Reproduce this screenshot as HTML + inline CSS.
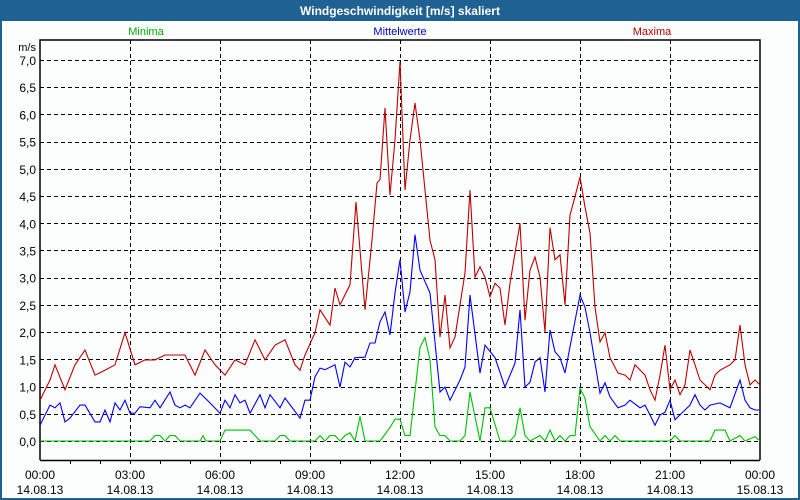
<!DOCTYPE html>
<html><head><meta charset="utf-8"><style>
body{margin:0;background:#fff;}
svg{display:block;font-family:"Liberation Sans","DejaVu Sans",sans-serif;}
</style></head><body>
<svg id="chart" width="800" height="500" viewBox="0 0 800 500">
<rect x="0" y="0" width="800" height="500" fill="#1f6193"/>
<rect x="2" y="21" width="796" height="477" fill="#fcfefd"/>
<text x="400" y="15" text-anchor="middle" fill="#fff" font-size="12" font-weight="bold">Windgeschwindigkeit [m/s] skaliert</text>
<text x="146" y="35" text-anchor="middle" fill="#00a800" font-size="11">Minima</text>
<text x="400" y="35" text-anchor="middle" fill="#0000c8" font-size="11">Mittelwerte</text>
<text x="652" y="35" text-anchor="middle" fill="#b40000" font-size="11">Maxima</text>
<text x="36" y="51" text-anchor="end" fill="#000" font-size="11">m/s</text>
<g id="grid"></g><g id="axes"></g><g id="series"></g>
</svg>
<script>
const yTicks=[0,0.5,1,1.5,2,2.5,3,3.5,4,4.5,5,5.5,6,6.5,7];
const xTickHours=[0,3,6,9,12,15,18,21,24];
const xTimeLabels=["00:00","03:00","06:00","09:00","12:00","15:00","18:00","21:00","00:00"];
const xDateLabels=["14.08.13","14.08.13","14.08.13","14.08.13","14.08.13","14.08.13","14.08.13","14.08.13","15.08.13"];
const maxT=[0,20,30,50,70,90,110,130,150,170,190,210,230,250,270,290,310,330,350,370,390,410,430,450,470,490,510,520,530,550,560,580,590,600,620,632,650,664,674,680,690,700,710,720,730,740,750,760,770,780,790,800,810,820,830,850,860,870,880,890,900,910,920,930,940,960,970,980,990,1000,1010,1020,1030,1040,1050,1060,1070,1080,1090,1100,1110,1120,1130,1140,1156,1170,1180,1190,1210,1220,1230,1240,1250,1260,1270,1280,1290,1300,1310,1320,1330,1340,1350,1360,1380,1390,1400,1410,1420,1430,1440];
const maxV=[0.75,1.12,1.4,0.94,1.4,1.67,1.21,1.3,1.4,1.99,1.4,1.49,1.49,1.58,1.58,1.58,1.21,1.67,1.4,1.21,1.49,1.4,1.86,1.49,1.76,1.86,1.4,1.3,1.58,1.99,2.41,2.13,2.81,2.5,2.87,4.39,2.41,3.69,4.74,4.8,6.12,4.52,5.53,6.97,4.61,5.53,6.21,5.53,4.61,3.69,3.33,1.91,2.68,1.71,1.91,3.09,4.61,3.01,3.2,3.01,2.65,2.9,2.81,2.13,2.9,4.0,2.22,3.14,3.38,3.01,2.0,3.92,3.33,3.42,2.5,4.15,4.49,4.85,4.3,3.82,2.46,1.82,1.99,1.53,1.25,1.21,1.12,1.4,1.21,0.94,0.75,1.21,1.76,0.94,1.12,0.85,1.03,1.67,1.4,1.12,1.03,0.94,1.21,1.3,1.4,1.49,2.13,1.4,1.03,1.12,1.03];
const meanT=[0,20,30,40,50,60,80,90,110,120,130,140,150,160,170,180,190,200,220,230,240,260,270,280,290,300,320,340,360,370,380,390,400,410,420,440,450,460,480,490,520,530,540,550,560,570,590,600,610,620,630,650,660,670,680,690,700,710,720,730,740,750,760,780,800,810,820,840,850,860,880,890,910,930,950,960,970,980,990,1000,1010,1020,1030,1040,1050,1060,1080,1090,1100,1120,1130,1140,1156,1170,1180,1200,1210,1220,1230,1240,1250,1260,1270,1280,1300,1310,1320,1330,1340,1360,1380,1400,1410,1420,1430,1440];
const meanV=[0.29,0.66,0.61,0.7,0.35,0.42,0.66,0.66,0.35,0.35,0.57,0.35,0.7,0.57,0.75,0.51,0.51,0.63,0.61,0.75,0.61,0.9,0.66,0.61,0.66,0.61,0.88,0.7,0.51,0.75,0.61,0.85,0.7,0.75,0.51,0.85,0.61,0.85,0.61,0.79,0.42,0.75,0.75,1.18,1.34,1.31,1.4,0.99,1.45,1.36,1.53,1.54,1.8,1.8,2.19,2.37,1.95,2.72,3.33,2.37,2.74,3.79,3.14,2.72,0.9,0.99,0.75,1.12,1.36,2.68,1.25,1.76,1.53,0.99,1.43,2.41,0.99,1.08,1.45,1.53,0.9,2.04,1.64,1.53,1.25,1.73,2.68,2.46,1.99,0.88,1.07,0.81,0.61,0.66,0.75,0.61,0.66,0.48,0.29,0.48,0.53,0.75,0.39,0.48,0.66,0.85,0.66,0.57,0.66,0.7,0.61,1.12,0.75,0.61,0.57,0.57];
const minT=[0,220,230,240,250,260,270,280,320,326,332,360,370,400,420,440,470,480,490,500,550,560,570,580,590,600,610,620,630,640,650,680,700,710,720,730,740,760,770,780,790,800,810,820,840,850,860,880,890,900,920,940,950,960,970,980,1000,1010,1020,1030,1040,1050,1060,1070,1080,1090,1100,1120,1130,1140,1150,1160,1260,1270,1280,1340,1350,1370,1380,1400,1410,1430,1440];
const minV=[0,0,0.1,0.1,0,0.1,0.1,0,0,0.1,0,0,0.2,0.2,0.2,0,0,0.1,0.1,0,0,0.1,0,0.1,0.1,0,0.1,0.15,0,0.45,0,0,0.25,0.4,0.4,0.1,0.1,1.72,1.9,1.49,0.26,0.1,0.1,0,0,0.1,0.9,0,0.61,0.61,0,0,0.1,0.61,0.1,0,0.1,0,0.2,0,0.1,0,0.1,0.1,0.97,0.79,0.26,0,0.1,0,0.1,0,0,0.1,0,0,0.2,0.2,0,0.1,0,0.08,0];

const X0=40,X1=760,YT=40,YB=460,Y0=441,PPU=54.43;
const xs=m=>X0+(m/1440)*(X1-X0);
const ys=v=>Y0-v*PPU;
const NS="http://www.w3.org/2000/svg";
function mk(tag,parent){const e=document.createElementNS(NS,tag);parent.appendChild(e);return e;}
const grid=document.getElementById('grid'),axes=document.getElementById('axes'),ser=document.getElementById('series');

yTicks.forEach(v=>{
  const l=mk('line',grid);
  
  
  const y=Math.round(ys(v))+0.5;
  l.setAttribute('x1',X0);l.setAttribute('x2',X1);l.setAttribute('y1',y);l.setAttribute('y2',y);
  l.setAttribute('stroke','#000');l.setAttribute('stroke-dasharray','4,3');
  const t=mk('text',axes);
  
  
  t.setAttribute('x',36);t.setAttribute('y',ys(v)+5);t.setAttribute('text-anchor','end');t.setAttribute('font-size','12');
  t.textContent=v.toFixed(1).replace('.',',');
});
for(let h=1;h<24;h++){
  const tk=mk('line',axes);
  
  
  tk.setAttribute('x1',xs(h*60)+0.5);tk.setAttribute('x2',xs(h*60)+0.5);tk.setAttribute('y1',YB);tk.setAttribute('y2',YB+4);tk.setAttribute('stroke','#000');
}
xTickHours.forEach((h,i)=>{
  const x=xs(h*60);
  if(h>0&&h<24){
    const l=mk('line',grid);
    
    
    l.setAttribute('x1',x+0.5);l.setAttribute('x2',x+0.5);l.setAttribute('y1',YT);l.setAttribute('y2',YB);
    l.setAttribute('stroke','#000');l.setAttribute('stroke-dasharray','4,3');
  }
  const t1=mk('text',axes);
  
  
  t1.setAttribute('x',x);t1.setAttribute('y',479);t1.setAttribute('text-anchor','middle');t1.setAttribute('font-size','12');
  t1.textContent=xTimeLabels[i];
  const t2=mk('text',axes);
  
  
  t2.setAttribute('x',x);t2.setAttribute('y',494);t2.setAttribute('text-anchor','middle');t2.setAttribute('font-size','12');
  t2.textContent=xDateLabels[i];
});
const frame=mk('path',axes);


frame.setAttribute('d',`M${X0},${YB}V${YT}H${X1}V${YB}M${X0},${YB+0.5}H${X1}`);
frame.setAttribute('fill','none');frame.setAttribute('stroke','#000');frame.setAttribute('stroke-width','1.5');

function series(T,V,color,name){
  const p=mk('polyline',ser);
  
  
  p.setAttribute('points',T.map((t,i)=>xs(t).toFixed(1)+','+ys(V[i]).toFixed(1)).join(' '));
  p.setAttribute('fill','none');p.setAttribute('stroke',color);p.setAttribute('stroke-width','1.1');
}
series(minT,minV,'#00c000','minima-line');
series(meanT,meanV,'#0000ff','mittelwerte-line');
series(maxT,maxV,'#c00000','maxima-line');
</script>
</body></html>
